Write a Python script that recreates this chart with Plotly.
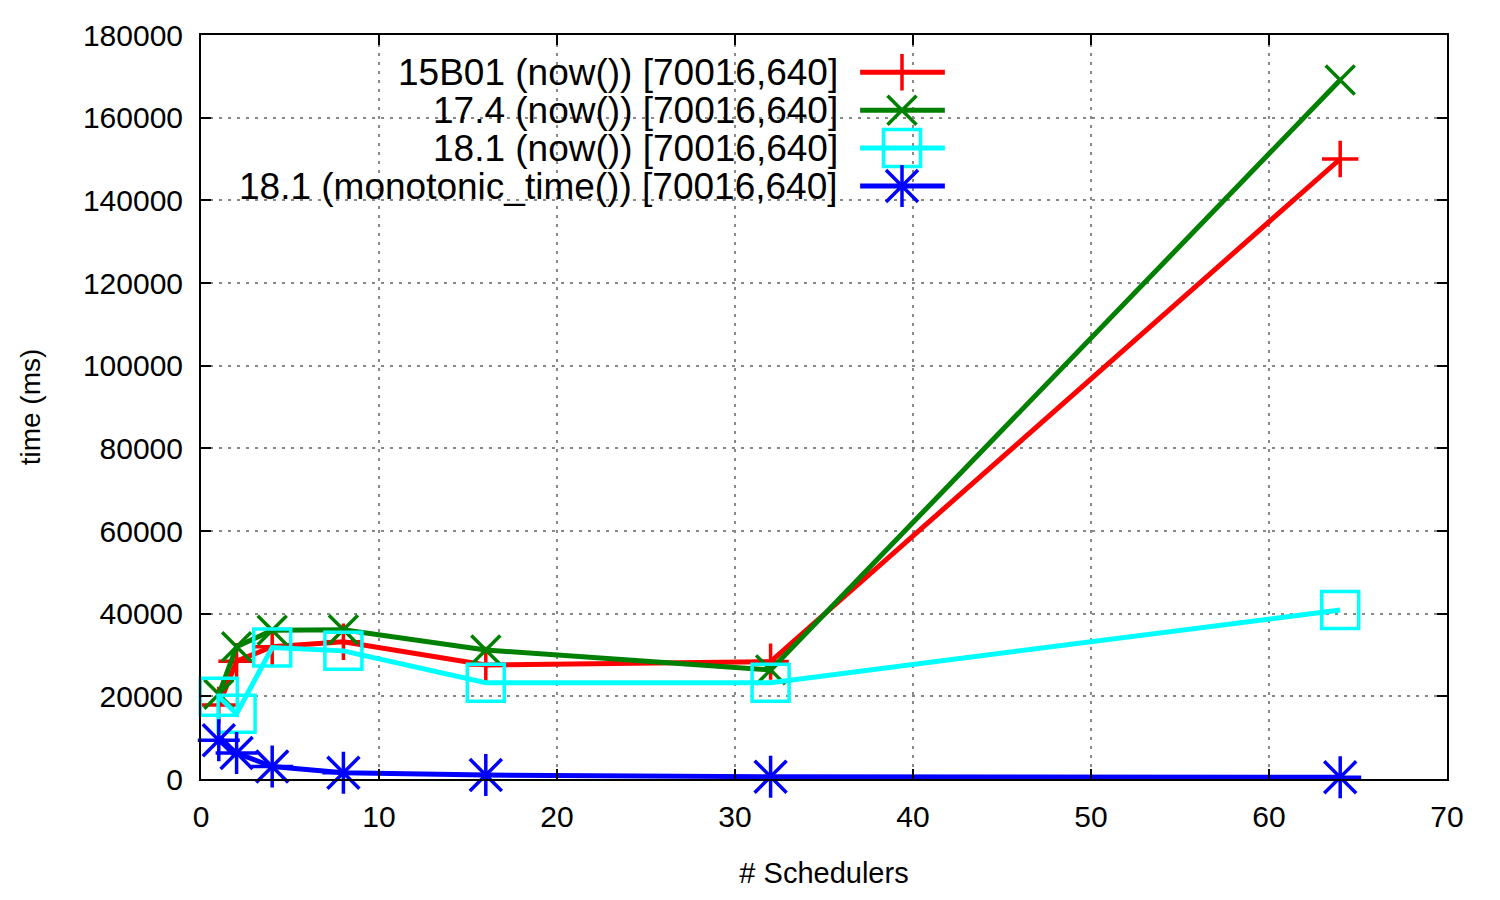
import plotly.graph_objects as go

# ---- data ----
schedulers = [1, 2, 4, 8, 16, 32, 64]
t_15b01_now = [17900, 28500, 32000, 33200, 27600, 28400, 150000]
t_174_now = [20500, 32000, 36000, 36100, 31200, 26400, 169100]
t_181_now = [19900, 15800, 31800, 31000, 23300, 23300, 40900]
t_181_mono = [9400, 6300, 3000, 1500, 950, 560, 400]

series_names = [
    "15B01 (now()) [70016,640]",
    "17.4 (now()) [70016,640]",
    "18.1 (now()) [70016,640]",
    "18.1 (monotonic_time()) [70016,640]",
]
series_values = [t_15b01_now, t_174_now, t_181_now, t_181_mono]
colors = ["#ff0000", "#008000", "#00ffff", "#0000ff"]
symbols = ["cross-thin", "x-thin", "square-open", "cross-thin"]
sizes = [26, 29, 37, 30]
# gnuplot's '*' point = '+' combined with 'x'; extra overlay symbol per series (None = none)
overlay_symbols = [None, None, None, "x-thin"]
overlay_sizes = [0, 0, 0, 32]

x_ticks = [0, 10, 20, 30, 40, 50, 60, 70]
y_ticks = [0, 20000, 40000, 60000, 80000, 100000, 120000, 140000, 160000, 180000]

FONT = "Liberation Sans, Arial, Helvetica, sans-serif"

fig = go.Figure()
for name, vals, c, s, sz, os_, osz in zip(series_names, series_values, colors, symbols,
                                          sizes, overlay_symbols, overlay_sizes):
    fig.add_trace(go.Scatter(
        x=schedulers, y=vals, name=name, mode="lines+markers",
        line=dict(color=c, width=5),
        marker=dict(symbol=s, size=sz, color=c, line=dict(color=c, width=3.5)),
        showlegend=False, cliponaxis=False,
    ))
    if os_:
        fig.add_trace(go.Scatter(
            x=schedulers, y=vals, mode="markers",
            marker=dict(symbol=os_, size=osz, color=c, line=dict(color=c, width=3.5)),
            showlegend=False, hoverinfo="skip", cliponaxis=False,
        ))

# ---- gnuplot-style key: text right-aligned, sample on the right ----
key_text_x = 0.5128          # paper x of right edge of key text
key_rows_y = [0.950, 0.899, 0.848, 0.797]
sample_x0, sample_xm, sample_x1 = 0.529, 0.5626, 0.597
for name, c, s, sz, os_, osz, ky in zip(series_names, colors, symbols, sizes,
                                        overlay_symbols, overlay_sizes, key_rows_y):
    fig.add_annotation(
        x=key_text_x, y=ky, xref="paper", yref="paper", text=name,
        xanchor="right", yanchor="middle", showarrow=False,
        font=dict(family=FONT, size=37, color="black"),
    )
    fig.add_trace(go.Scatter(
        x=[sample_x0, sample_x1], y=[ky, ky], xaxis="x2", yaxis="y2",
        mode="lines", line=dict(color=c, width=5), showlegend=False, hoverinfo="skip",
    ))
    fig.add_trace(go.Scatter(
        x=[sample_xm], y=[ky], xaxis="x2", yaxis="y2",
        mode="markers",
        marker=dict(symbol=s, size=sz, color=c, line=dict(color=c, width=3.5)),
        showlegend=False, hoverinfo="skip",
    ))
    if os_:
        fig.add_trace(go.Scatter(
            x=[sample_xm], y=[ky], xaxis="x2", yaxis="y2",
            mode="markers",
            marker=dict(symbol=os_, size=osz, color=c, line=dict(color=c, width=3.5)),
            showlegend=False, hoverinfo="skip",
        ))

axis_common = dict(
    showline=True, linecolor="black", linewidth=2, mirror="ticks",
    ticks="inside", ticklen=10, tickwidth=2, tickcolor="black",
    showgrid=True, gridcolor="#888888", gridwidth=1.5, griddash="3px,6px",
    zeroline=False, tickformat="d",
    tickfont=dict(family=FONT, size=30, color="black"),
)

fig.update_layout(
    width=1500, height=900, autosize=False,
    margin=dict(l=201, r=53, t=35, b=121),
    paper_bgcolor="white", plot_bgcolor="white",
    font=dict(family=FONT, color="black"),
    xaxis=dict(
        range=[0, 70], tickvals=x_ticks, ticklabelstandoff=10,
        title=dict(text="# Schedulers", font=dict(family=FONT, size=29), standoff=31),
        **axis_common,
    ),
    yaxis=dict(
        range=[0, 180000], tickvals=y_ticks, ticklabelstandoff=10,
        title=dict(text="time (ms)", font=dict(family=FONT, size=28), standoff=34),
        **axis_common,
    ),
    xaxis2=dict(overlaying="x", range=[0, 1], visible=False, fixedrange=True),
    yaxis2=dict(overlaying="y", range=[0, 1], visible=False, fixedrange=True),
)

fig.write_html("out.html")
